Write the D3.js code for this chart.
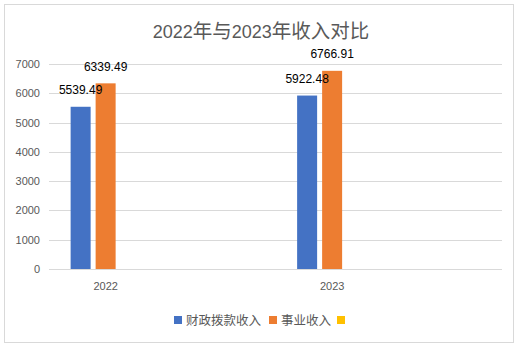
<!DOCTYPE html>
<html><head><meta charset="utf-8">
<script src="https://cdn.jsdelivr.net/npm/d3@7"></script>
<style>body{margin:0;background:#fff}svg{display:block}</style>
</head><body>
<script>
const categories = ["2022", "", "2023", ""];
const seriesNames = ["财政拨款收入", "事业收入", ""];
const fiscalValues = [5539.49, null, 5922.48, null];
const businessValues = [6339.49, null, 6766.91, null];
const otherValues = [null, null, null, null];
const yTicks = [0, 1000, 2000, 3000, 4000, 5000, 6000, 7000];
const titleText = "2022年与2023年收入对比";
const colors = ["#4472C4", "#ED7D31", "#FFC000"];

const W = 525, H = 348;
const svg = d3.select("body").append("svg").attr("width", W).attr("height", H);
svg.append("rect").attr("width", W).attr("height", H).attr("fill", "#fff");
svg.append("rect").attr("x", 4.5).attr("y", 4.5).attr("width", 509).attr("height", 338)
  .attr("fill", "none").attr("stroke", "#D9D9D9").attr("stroke-width", 1);

const plot = {left: 49, right: 502, top: 64, bottom: 269};
const x = d3.scaleBand().domain(d3.range(categories.length)).range([plot.left, plot.right]);
const y = d3.scaleLinear().domain([0, 7000]).range([plot.bottom, plot.top]);
const xs = d3.scaleBand().domain(d3.range(seriesNames.length)).range([-35, 35]).paddingInner(0.2);

// gridlines
svg.append("g").selectAll("line").data(yTicks).join("line")
  .attr("x1", plot.left).attr("x2", plot.right)
  .attr("y1", d => Math.round(y(d)) + 0.5).attr("y2", d => Math.round(y(d)) + 0.5)
  .attr("stroke", "#D9D9D9").attr("stroke-width", 1);

// y axis labels
const yAxis = d3.axisLeft(y).tickValues(yTicks).tickSize(0).tickPadding(0).tickFormat(d3.format("d"));
const ga = svg.append("g").attr("transform", `translate(${plot.left - 9},0)`).call(yAxis);
ga.select(".domain").remove();
ga.selectAll("text").attr("font-family", "Liberation Sans, Arial, sans-serif").attr("font-size", 11).attr("fill", "#595959");

// x axis labels
const xAxis = d3.axisBottom(x).tickSize(0).tickPadding(0).tickFormat(i => categories[i]);
const gx = svg.append("g").attr("transform", `translate(0,${plot.bottom + 13})`).call(xAxis);
gx.select(".domain").remove();
gx.selectAll("text").attr("font-family", "Liberation Sans, Arial, sans-serif").attr("font-size", 11).attr("fill", "#595959");

const allSeries = [fiscalValues, businessValues, otherValues];
const barLayer = svg.append("g");
const labelLayer = svg.append("g");
allSeries.forEach((vals, s) => {
  const data = vals.map((v, i) => ({i, v})).filter(d => d.v != null);
  barLayer.append("g").selectAll("rect").data(data).join("rect")
    .attr("x", d => x(d.i) + x.bandwidth() / 2 + xs(s))
    .attr("width", xs.bandwidth())
    .attr("y", d => y(d.v))
    .attr("height", d => y(0) - y(d.v))
    .attr("fill", colors[s]);
  labelLayer.append("g").selectAll("text").data(data).join("text")
    .attr("x", d => x(d.i) + x.bandwidth() / 2 + xs(s) + xs.bandwidth() / 2)
    .attr("y", d => y(d.v) - 12.5)
    .attr("text-anchor", "middle")
    .attr("font-family", "Liberation Sans, Arial, sans-serif").attr("font-size", 12)
    .attr("fill", "#000")
    .text(d => d3.format(".2f")(d.v));
});

// title
const t = svg.append("text").attr("x", 261).attr("y", 38).attr("text-anchor", "middle")
  .attr("font-family", "Liberation Sans, Noto Sans CJK SC, sans-serif").attr("font-size", 18).attr("fill", "#595959");
const parts = titleText.match(/[0-9]+|[^0-9]+/g);
parts.forEach(p => {
  const isNum = /^[0-9]+$/.test(p);
  t.append("tspan").attr("font-family", isNum ? "Liberation Sans, sans-serif" : "Noto Sans CJK SC, sans-serif")
    .attr("font-size", isNum ? 18 : 19.5).text(p);
});

// legend
const legend = [
  {name: seriesNames[0], c: colors[0], x: 174},
  {name: seriesNames[1], c: colors[1], x: 269},
  {name: seriesNames[2], c: colors[2], x: 337}
];
const lg = svg.append("g");
legend.forEach(l => {
  lg.append("rect").attr("x", l.x).attr("y", 316).attr("width", 8).attr("height", 8).attr("fill", l.c);
  lg.append("text").attr("x", l.x + 12).attr("y", 324.5)
    .attr("font-family", "Noto Sans CJK SC, sans-serif").attr("font-size", 12.5).attr("fill", "#595959")
    .text(l.name);
});
</script>
</body></html>
